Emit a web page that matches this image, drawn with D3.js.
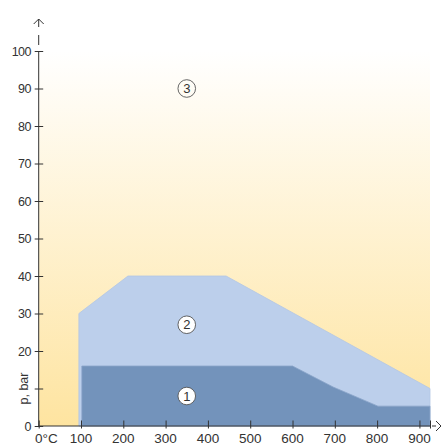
<!DOCTYPE html>
<html>
<head>
<meta charset="utf-8">
<script src="https://cdn.jsdelivr.net/npm/d3@7"></script>
<style>
  body { margin: 0; background: #fff; }
  text { font-family: "Liberation Sans", Arial, sans-serif; fill: #333; }
</style>
</head>
<body>
<script>
// chart size
const width = 441;
const height = 445;

// data
const xTicks = [100, 200, 300, 400, 500, 600, 700, 800, 900];
const yTicks = [0, 10, 20, 30, 40, 50, 60, 70, 80, 90, 100];
const zone2 = [[95, 0], [95, 30], [211, 40], [443, 40], [925, 10], [925, 0]];
const zone1 = [[102, 0], [102, 16], [600, 16], [696, 10.4], [802, 5.3], [925, 5.3], [925, 0]];
const labels = [
  {x: 350, y: 8, t: "1"},
  {x: 350, y: 27, t: "2"},
  {x: 350, y: 90, t: "3"}
];

// scales
const xScale = d3.scaleLinear().domain([0, 925]).range([38.7, 430]);
const yScale = d3.scaleLinear().domain([0, 100]).range([426, 51]);

const svg = d3.select("body").append("svg")
    .attr("width", width)
    .attr("height", height);

// gradient for zone 3
const grad = svg.append("defs").append("linearGradient")
    .attr("id", "bg").attr("x1", 0).attr("y1", 0).attr("x2", 0).attr("y2", 1);
grad.append("stop").attr("offset", "0%").attr("stop-color", "#ffffff");
grad.append("stop").attr("offset", "100%").attr("stop-color", "#fee4a0");

svg.append("rect")
    .attr("x", xScale(0))
    .attr("y", yScale(100))
    .attr("width", xScale(925) - xScale(0))
    .attr("height", yScale(0) - yScale(100))
    .attr("fill", "url(#bg)");

const line = d3.line().x(d => xScale(d[0])).y(d => yScale(d[1]));

svg.append("path")
    .attr("d", line(zone2) + "Z")
    .attr("fill", "#bccfeb")
    .attr("stroke", "#b2c6e4")
    .attr("stroke-width", 0.8);

svg.append("path")
    .attr("d", line(zone1) + "Z")
    .attr("fill", "#7393bb")
    .attr("stroke", "#8aa5c9")
    .attr("stroke-width", 0.8);

// circled zone labels
labels.forEach(d => {
    svg.append("circle")
        .attr("cx", xScale(d.x))
        .attr("cy", yScale(d.y))
        .attr("r", 8.8)
        .attr("fill", d.t === "3" ? "none" : "#fff")
        .attr("stroke", "#555")
        .attr("stroke-width", 0.9);
    svg.append("text")
        .attr("x", xScale(d.x))
        .attr("y", yScale(d.y) + 4.7)
        .attr("text-anchor", "middle")
        .attr("font-size", 13)
        .text(d.t);
});

// axes
const bottomAxis = d3.axisBottom(xScale)
    .tickValues([0].concat(xTicks, [925]))
    .tickSize(0)
    .tickFormat("");
const leftAxis = d3.axisLeft(yScale)
    .tickValues(yTicks)
    .tickSize(0)
    .tickFormat("");

const gx = svg.append("g")
    .attr("transform", "translate(0," + yScale(0) + ")")
    .call(bottomAxis);
gx.select(".domain").remove();
gx.selectAll(".tick line").attr("y1", -5.5).attr("y2", 2.5).attr("stroke", "#333");
gx.append("line").attr("x1", xScale(0)).attr("x2", xScale(925))
    .attr("stroke", "#333");

const gy = svg.append("g")
    .attr("transform", "translate(" + xScale(0) + ",0)")
    .call(leftAxis);
gy.select(".domain").remove();
gy.selectAll(".tick line").attr("x1", -4).attr("x2", 4.5).attr("stroke", "#333");
gy.append("line").attr("y1", yScale(0)).attr("y2", yScale(100))
    .attr("stroke", "#333");

// tick labels
svg.selectAll(".xlab")
    .data(xTicks)
    .enter()
    .append("text")
    .attr("x", d => xScale(d))
    .attr("y", 443)
    .attr("text-anchor", "middle")
    .attr("font-size", 13.5)
    .text(d => d);

svg.append("text")
    .attr("x", 35)
    .attr("y", 443)
    .attr("font-size", 13.5)
    .text("0°C");

svg.selectAll(".ylab")
    .data(yTicks.filter(d => d !== 10))
    .enter()
    .append("text")
    .attr("x", 31)
    .attr("y", d => yScale(d) + 4.5)
    .attr("text-anchor", "end")
    .attr("font-size", 12.5)
    .attr("letter-spacing", -0.5)
    .text(d => d);

svg.append("text")
    .attr("transform", "translate(28," + yScale(10) + ") rotate(-90)")
    .attr("text-anchor", "middle")
    .attr("font-size", 12.5)
    .text("p, bar");

// axis arrows
const ax = xScale(0);
svg.append("line").attr("x1", ax).attr("x2", ax).attr("y1", 35).attr("y2", 45)
    .attr("stroke", "#333");
svg.append("path")
    .attr("d", "M" + (ax - 5) + ",24 L" + ax + ",19 L" + (ax + 5) + ",24 M" + ax + ",19 L" + ax + ",27")
    .attr("fill", "none").attr("stroke", "#333").attr("stroke-width", 1);

const ay = yScale(0);
svg.append("line").attr("x1", 432).attr("x2", 436).attr("y1", ay).attr("y2", ay)
    .attr("stroke", "#333");
svg.append("path")
    .attr("d", "M436," + (ay - 5) + " L441," + ay + " L436," + (ay + 5))
    .attr("fill", "none").attr("stroke", "#333").attr("stroke-width", 1);
</script>
</body>
</html>
